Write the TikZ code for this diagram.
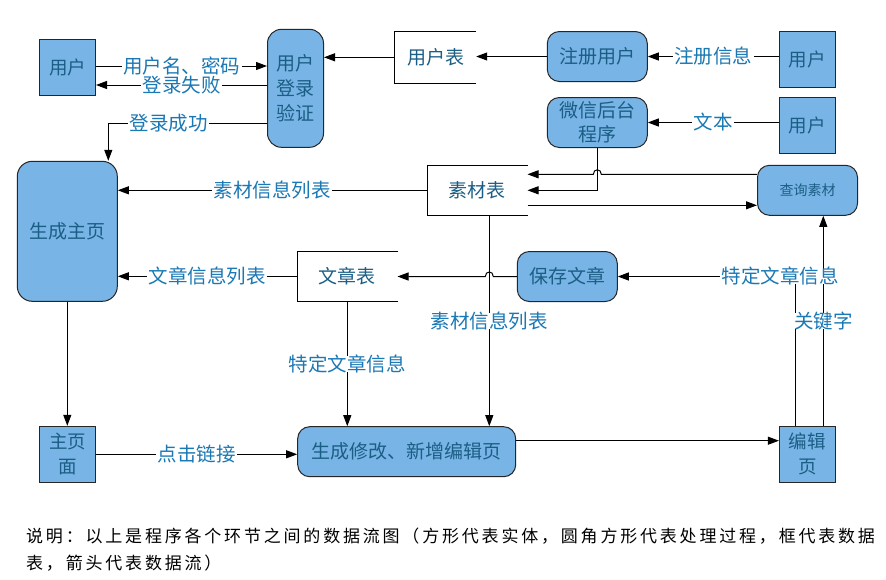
\documentclass[tikz,border=0pt]{standalone}
\usepackage{fontspec}
\setmainfont{Noto Sans CJK SC}
\newfontfamily\capfont[LetterSpace=16.5]{Noto Sans CJK SC}
\usetikzlibrary{arrows.meta,calc}
\definecolor{nfill}{HTML}{78B4E6}
\definecolor{ntext}{HTML}{1B5E85}
\definecolor{ltext}{HTML}{1A78B4}
\tikzset{
  entity/.style={draw=black!85, line width=1pt, fill=nfill, minimum width=56pt, minimum height=56pt, inner sep=0pt, text=ntext, align=center, font=\fontsize{18.5}{25}\selectfont},
  proc/.style={draw=black!85, line width=1pt, fill=nfill, rounded corners=12pt, minimum width=100pt, minimum height=50pt, inner sep=0pt, text=ntext, align=center, font=\fontsize{19}{25}\selectfont},
  store/.style={minimum width=100pt, minimum height=50pt, inner sep=0pt, text=ntext, font=\fontsize{19}{24}\selectfont},
  storeline/.style={line width=1pt},
  lab/.style={fill=white, text=ltext, inner xsep=1.5pt, inner ysep=0pt, text height=15pt, text depth=0.5pt, font=\fontsize{19.5}{22}\selectfont},
  arr/.style={line width=1pt, -{Triangle[length=11pt,width=8pt]}},
  plain/.style={line width=1pt}
}
\begin{document}
\begin{tikzpicture}[x=1pt,y=-1pt]
\path[use as bounding box, fill=white] (0,0) rectangle (886,579);

% entities
\node[entity] (u1) at (67.5,67) {用户};
\node[entity] (u2) at (807.3,59.3) {用户};
\node[entity] (u3) at (807.3,125.3) {用户};
\node[entity] (mainp) at (67.8,454.3) {主页\\面};
\node[entity] (edit) at (807.4,454.3) {编辑\\页};

% processes
\node[proc, minimum width=56pt, minimum height=118pt, rounded corners=14pt] (login) at (295.5,88.3) {用户\\登录\\验证};
\node[proc] (reg) at (597.3,56.5) {注册用户};
\node[proc, font=\fontsize{19}{24.5}\selectfont] (wx) at (597.3,122.5) {微信后台\\程序};
\node[proc, font=\fontsize{14}{16}\selectfont] (query) at (807.5,190.3) {查询素材};
\node[proc, minimum height=140pt, rounded corners=15pt] (home) at (67.3,231.3) {生成主页};
\node[proc] (save) at (567.3,276.5) {保存文章};
\node[proc, minimum width=218pt] (gen) at (406.7,451.7) {生成修改、新增编辑页};

% stores
\node[store, minimum width=81pt, minimum height=52pt] (utab) at (435.5,57.3) {用户表};
\draw[storeline] (utab.north east) -- (utab.north west) -- (utab.south west) -- (utab.south east);
\node[store] (sc) at (477.3,190.3) {素材表};
\draw[storeline] (sc.north east) -- (sc.north west) -- (sc.south west) -- (sc.south east);
\node[store] (art) at (347.3,276.3) {文章表};
\draw[storeline] (art.north east) -- (art.north west) -- (art.south west) -- (art.south east);

% helper coordinates
\coordinate (r1) at (0,66);
\coordinate (r2) at (0,85);
\coordinate (c1) at (108.3,123.3);
\coordinate (r174) at (0,174.3);
\coordinate (r205) at (0,205.3);
\coordinate (scv) at (489.3,0);
\coordinate (k1) at (795.5,0);
\coordinate (k2) at (823.3,0);
\coordinate (r440) at (0,440.7);

% top-left
\draw[arr] (login.west |- r2) -- node[lab]{登录失败} (u1.east |- r2);
\draw[arr] (u1.east |- r1) -- node[lab]{用户名、密码} (login.west |- r1);
\draw[arr] (login.west |- c1) -- node[lab, pos=0.62]{登录成功} (c1) -- (c1 |- home.north);
\draw[arr] (utab.west) -- (login.east |- utab.west);

% top-right
\draw[arr] (reg.west) -- (utab.east |- reg.west);
\draw[arr] (u2.west |- reg.east) -- node[lab]{注册信息} (reg.east);
\draw[arr] (u3.west |- wx.east) -- node[lab]{文本} (wx.east);

% 素材表 connections
\draw[arr] (wx.south) -- (wx.south |- sc.east) -- (sc.east);
\draw[arr] (query.west |- r174) -- ($(wx.south |- r174)+(4,0)$) .. controls +(0,-6) and +(0,-6) .. ($(wx.south |- r174)+(-4,0)$) -- (sc.east |- r174);
\draw[arr] (sc.east |- r205) -- (query.west |- r205);
\draw[arr] (sc.west) -- node[lab]{素材信息列表} (home.east |- sc.west);
\draw[arr] (scv |- sc.south) -- node[lab]{素材信息列表} (scv |- gen.north);

% 文章表 connections
\draw[arr] (save.west) -- ($(scv |- save.west)+(4,0)$) .. controls +(0,-6) and +(0,-6) .. ($(scv |- save.west)+(-4,0)$) -- (art.east |- save.west);
\draw[arr] (art.west) -- node[lab]{文章信息列表} (home.east |- art.west);
\draw[arr] (art.south) -- node[lab]{特定文章信息} (art.south |- gen.north);

% bottom
\draw[arr] (home.south) -- (home.south |- mainp.north);
\draw[arr] (mainp.east) -- node[lab]{点击链接} (gen.west |- mainp.east);
\draw[arr] (gen.east |- r440) -- (edit.west |- r440);

% 编辑页 upward
\draw[arr] (k2 |- edit.north) -- (k2 |- query.south);
\draw[arr] (k1 |- edit.north) -- (k1 |- save.east) -- node[lab, pos=0.085]{特定文章信息} (save.east);
\path (k2 |- edit.north) -- node[lab]{关键字} (k2 |- query.south);

% caption
\node[anchor=west, inner sep=0pt, font=\capfont\fontsize{17}{20}\selectfont] (cap1) at (26,536) {说明：以上是程序各个环节之间的数据流图（方形代表实体，圆角方形代表处理过程，框代表数据};
\node[anchor=west, inner sep=0pt, font=\capfont\fontsize{17}{20}\selectfont] (cap2) at (26,563) {表，箭头代表数据流）};
\end{tikzpicture}
\end{document}
